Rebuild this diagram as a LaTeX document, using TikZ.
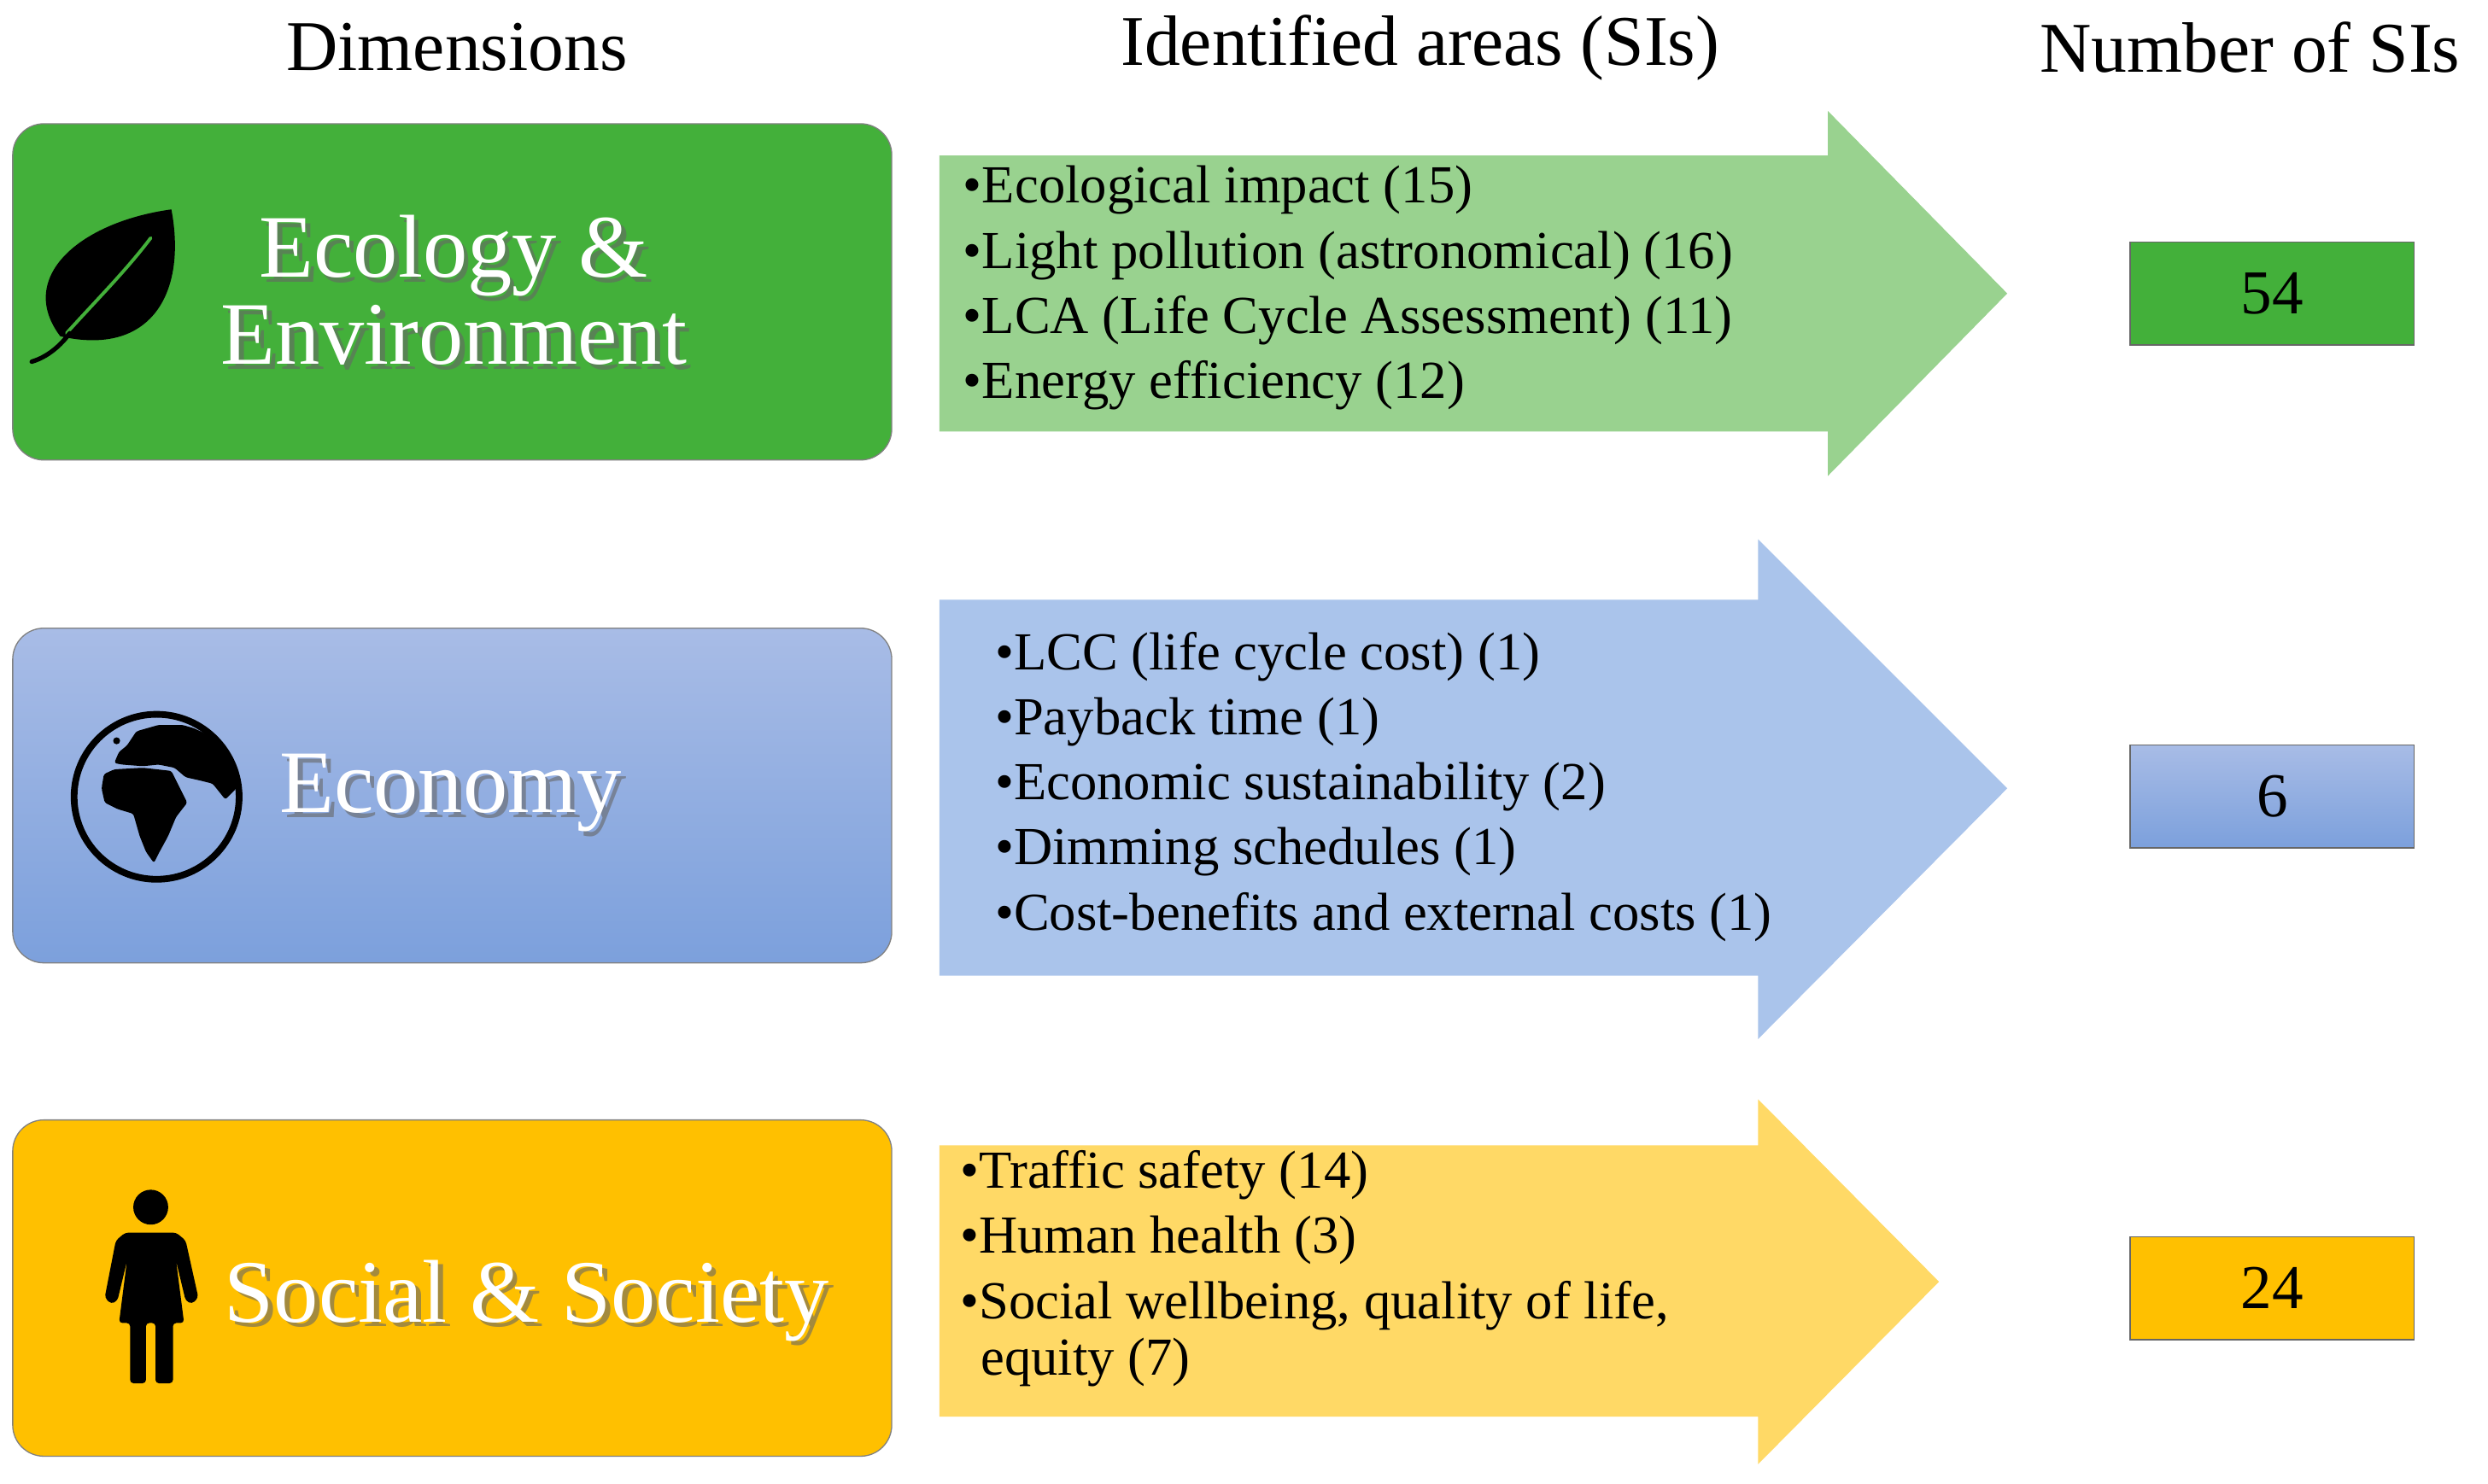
\documentclass[tikz,border=0pt]{standalone}
\usepackage{fontspec}
\setmainfont{Liberation Serif}
\definecolor{gbox}{RGB}{67,176,58}
\definecolor{garr}{RGB}{153,210,143}
\definecolor{btop}{RGB}{168,188,230}
\definecolor{bbot}{RGB}{124,160,220}
\definecolor{barr}{RGB}{170,196,235}
\definecolor{obox}{RGB}{255,192,0}
\definecolor{oarr}{RGB}{255,217,102}
\begin{document}
\begin{tikzpicture}[x=0.05cm,y=-0.05cm,
  dimbox/.style={rounded corners=28pt,draw=black!50,line width=1pt},
  numbox/.style={draw=black!60,line width=1pt,minimum width=179*0.05cm,minimum height=65*0.05cm,inner sep=0pt,font=\fontsize{56}{60}\selectfont},
  hdr/.style={font=\fontsize{64}{70}\selectfont},
  lbl/.style={text=white,font=\fontsize{80}{78}\selectfont,align=center},
  lblsh/.style={text=black!60,opacity=0.6,font=\fontsize{80}{78}\selectfont,align=center},
  item/.style={anchor=west,font=\fontsize{48}{50}\selectfont,inner sep=0pt}]
\useasboundingbox (0,0) rectangle (1568,935);
% headers
\node[hdr] (h1) at (288,30) {Dimensions};
\node[hdr] (h2) at (895,30) {Identified areas (SIs)};
\node[hdr] (h3) at (1418,30) {Number of SIs};
% dimension boxes
\draw[dimbox,fill=gbox] (8,78) rectangle (562,290);
\draw[dimbox,top color=btop,bottom color=bbot] (8,396) rectangle (562,607);
\draw[dimbox,fill=obox] (8,706) rectangle (562,918);
\node[lblsh] at (289,186) {Ecology \&\\Environment};
\node[lbl] (d1) at (286,183) {Ecology \&\\Environment};
\node[lblsh] at (287,503) {Economy};
\node[lbl] (d2) at (284,500) {Economy};
\node[lblsh] at (335,823) {Social \& Society};
\node[lbl] (d3) at (332,820) {Social \& Society};
% leaf
\fill[black] (38,212) .. controls (10,175) and (50,140) .. (108,132)
  .. controls (118,185) and (95,225) .. (38,212) -- cycle;
\draw[gbox,line width=3pt,line cap=round] (42,210) .. controls (60,190) and (80,170) .. (95,150);
\draw[black,line width=4pt,line cap=round] (20,228) .. controls (30,225) and (38,218) .. (44,210);
% globe
\draw[line width=6pt] (98.7,502.3) circle (52);
\fill[rounded corners=2pt] (65.5,488) -- (72,485) -- (90,484) -- (108,486) -- (112,494) -- (118,506)
  -- (111,515) -- (106,527) -- (100,538) -- (97,544) -- (92,537) -- (88,527) -- (84,513) -- (74,510) -- (66,506) -- (64,497) -- cycle;
\fill[rounded corners=2pt] (72,481) -- (75,474) -- (80,470) -- (86,461) -- (100,457) -- (115,457) -- (122,459)
  -- (135,465) -- (147,479) -- (149,497) -- (142,504) -- (134,494) -- (126,492) -- (117,490) -- (110,484) -- (100,482) -- (90,483) -- (77,482) -- cycle;
\fill (73.5,467) circle (2.2);
% woman
\fill (95,761) circle (11);
\fill[rounded corners=3pt] (79,777) -- (111,777) -- (117,782) -- (125,818) -- (121,822) -- (117,820) -- (111,795)
  -- (116,834) -- (109,834) -- (109,872) -- (98,872) -- (98,834) -- (92,834) -- (92,872) -- (82,872) -- (82,834)
  -- (75,834) -- (80,795) -- (74,820) -- (70,822) -- (66,818) -- (73,782) -- cycle;
% arrows
\fill[garr] (592,98) -- (1152,98) -- (1152,70) -- (1265,185) -- (1152,300) -- (1152,272) -- (592,272) -- cycle;
\fill[barr] (592,378) -- (1108,378) -- (1108,340) -- (1265,497) -- (1108,655) -- (1108,615) -- (592,615) -- cycle;
\fill[oarr] (592,722) -- (1108,722) -- (1108,693) -- (1222,808) -- (1108,923) -- (1108,893) -- (592,893) -- cycle;
% items
\node[item] at (607,120) {•Ecological impact (15)};
\node[item] at (607,161) {•Light pollution (astronomical) (16)};
\node[item] at (607,202) {•LCA (Life Cycle Assessment) (11)};
\node[item] at (607,243) {•Energy efficiency (12)};
\node[item] at (627,414) {•LCC (life cycle cost) (1)};
\node[item] at (627,455) {•Payback time (1)};
\node[item] at (627,496) {•Economic sustainability (2)};
\node[item] at (627,537) {•Dimming schedules (1)};
\node[item] at (627,578) {•Cost-benefits and external costs (1)};
\node[item] at (605,741) {•Traffic safety (14)};
\node[item] at (605,782) {•Human health (3)};
\node[item] at (605,823) {•Social wellbeing, quality of life,};
\node[item] at (618,859) {equity (7)};
% numbers
\node[numbox,fill=gbox] (n1) at (1432,185) {54};
\node[numbox,top color=btop,bottom color=bbot] (n2) at (1432,502) {6};
\node[numbox,fill=obox] (n3) at (1432,812) {24};
\end{tikzpicture}
\end{document}
